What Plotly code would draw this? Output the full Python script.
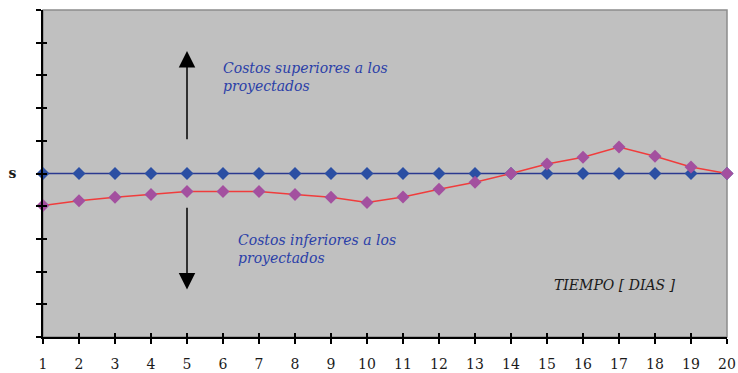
import plotly.graph_objects as go

# Days on the horizontal axis
dias = list(range(1, 21))
# Projected cost level (reference line "s")
nivel_s = 5
proyectado = [nivel_s] * 20
# Actual cost deviation from the projection, per day
desviacion = [-0.98, -0.83, -0.73, -0.64, -0.55, -0.55, -0.55, -0.64, -0.73, -0.89,
              -0.72, -0.48, -0.27, 0.0, 0.29, 0.5, 0.81, 0.53, 0.2, 0.0]
real = [nivel_s + d for d in desviacion]

y_ticks = list(range(0, 11))
y_ticktext = ["<b>s</b>" if v == nivel_s else "" for v in y_ticks]

serif = "DejaVu Serif"

fig = go.Figure()
fig.add_trace(go.Scatter(
    x=dias, y=proyectado, mode="lines+markers",
    line=dict(color="#2b3990", width=1.5),
    marker=dict(symbol="diamond", size=10, color="#2b4fa3"),
    cliponaxis=False, showlegend=False,
))
fig.add_trace(go.Scatter(
    x=dias, y=real, mode="lines+markers",
    line=dict(color="#f03c3c", width=1.5),
    marker=dict(symbol="diamond", size=10, color="#a3509f"),
    cliponaxis=False, showlegend=False,
))
# Invisible trace carrying the inner tick axes
fig.add_trace(go.Scatter(x=[1, 20], y=[0, 10], xaxis="x2", yaxis="y2", mode="markers",
                         marker=dict(opacity=0), hoverinfo="skip", showlegend=False))

# Plot frame (grey top/right edges)
fig.add_shape(type="rect", xref="paper", yref="paper", x0=0, y0=0, x1=1, y1=1,
              line=dict(color="#8c8c8c", width=1.5), layer="below")

# Direction arrows
fig.add_annotation(x=5, y=8.75, ax=5, ay=6.0, xref="x", yref="y", axref="x", ayref="y",
                   showarrow=True, arrowhead=2, arrowsize=2.2, arrowwidth=1.5,
                   arrowcolor="#000000", text="")
fig.add_annotation(x=5, y=1.45, ax=5, ay=4.0, xref="x", yref="y", axref="x", ayref="y",
                   showarrow=True, arrowhead=2, arrowsize=2.2, arrowwidth=1.5,
                   arrowcolor="#000000", text="")

txt_font = dict(family=serif, size=14, color="#2b3fa8")
fig.add_annotation(x=5.95, y=7.95, xref="x", yref="y", xanchor="left", yanchor="middle",
                   text="<i>Costos superiores a los<br>proyectados</i>", showarrow=False,
                   align="left", font=txt_font)
fig.add_annotation(x=6.35, y=2.7, xref="x", yref="y", xanchor="left", yanchor="middle",
                   text="<i>Costos inferiores a los<br>proyectados</i>", showarrow=False,
                   align="left", font=txt_font)
fig.add_annotation(x=15.15, y=1.6, xref="x", yref="y", xanchor="left", yanchor="middle",
                   text="<i>TIEMPO [ DIAS ]</i>", showarrow=False,
                   font=dict(family=serif, size=14, color="#1a1a1a"))

axis_common = dict(showgrid=False, zeroline=False, tickcolor="#000000", tickwidth=1.5,
                   automargin=False)

fig.update_layout(
    width=738, height=373,
    margin=dict(l=43, r=11, t=10, b=36, autoexpand=False),
    paper_bgcolor="#ffffff", plot_bgcolor="#c0c0c0",
    xaxis=dict(range=[1, 20], tickvals=dias, ticks="outside", ticklen=5,
               showline=True, linecolor="#000000", linewidth=1.5,
               ticklabelstandoff=8,
               tickfont=dict(family=serif, size=14, color="#1a1a1a"), **axis_common),
    yaxis=dict(range=[0, 10], tickvals=y_ticks, ticktext=y_ticktext, ticks="outside",
               ticklen=5, showline=True, linecolor="#000000", linewidth=1.5,
               ticklabelstandoff=17,
               tickfont=dict(family=serif, size=14, color="#1a1a1a"), **axis_common),
    xaxis2=dict(range=[1, 20], overlaying="x", tickvals=dias, ticks="inside", ticklen=4,
                showticklabels=False, showline=False, **axis_common),
    yaxis2=dict(range=[0, 10], overlaying="y", tickvals=y_ticks, ticks="inside", ticklen=4,
                showticklabels=False, showline=False, **axis_common),
)

fig.write_html("out.html")
